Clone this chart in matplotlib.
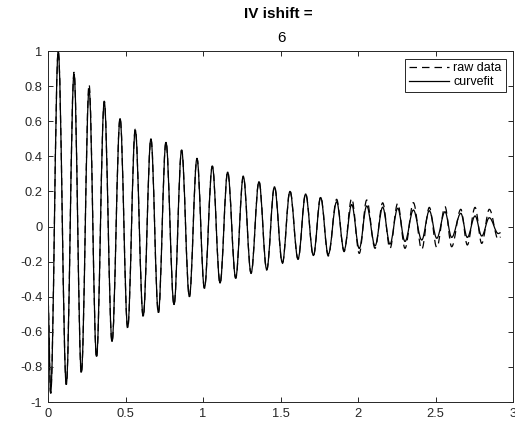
import numpy as np
import matplotlib
matplotlib.use('Agg')
import matplotlib.pyplot as plt
from matplotlib.path import Path
from matplotlib.patches import PathPatch
from matplotlib.lines import Line2D

plt.rcParams['font.family'] = ['Liberation Sans', 'DejaVu Sans']

# times of the turning points (s)
t_pts = [0.0, 0.017, 0.066, 0.118, 0.168, 0.215, 0.265, 0.313, 0.363, 0.413,
         0.465, 0.514, 0.563, 0.614, 0.664, 0.712, 0.761, 0.813, 0.862, 0.912,
         0.961, 1.009, 1.060, 1.110, 1.159, 1.211, 1.260, 1.310, 1.361, 1.411,
         1.461, 1.512, 1.561, 1.613, 1.662, 1.712, 1.759, 1.808, 1.862, 1.910,
         1.959, 2.008, 2.056, 2.110, 2.159, 2.206, 2.256, 2.303, 2.357, 2.411,
         2.460, 2.508, 2.561, 2.604, 2.663, 2.705, 2.755, 2.798, 2.847, 2.905,
         2.920]

raw = [-0.42, -0.95, 1.00, -0.90, 0.88, -0.84, 0.81, -0.75, 0.715, -0.66,
       0.62, -0.58, 0.555, -0.515, 0.50, -0.495, 0.483, -0.447, 0.436, -0.40,
       0.389, -0.352, 0.345, -0.324, 0.312, -0.295, 0.288, -0.267, 0.259, -0.248,
       0.229, -0.210, 0.204, -0.187, 0.189, -0.168, 0.170, -0.168, 0.155, -0.143,
       0.160, -0.153, 0.151, -0.124, 0.135, -0.125, 0.132, -0.124, 0.136, -0.130,
       0.109, -0.119, 0.113, -0.115, 0.098, -0.105, 0.109, -0.096, 0.098, -0.073,
       -0.06]

fit = [-0.42, -0.95, 1.00, -0.90, 0.87, -0.83, 0.78, -0.74, 0.71, -0.655,
       0.615, -0.575, 0.55, -0.51, 0.50, -0.49, 0.48, -0.445, 0.435, -0.40,
       0.388, -0.35, 0.343, -0.322, 0.31, -0.293, 0.285, -0.265, 0.255, -0.245,
       0.226, -0.207, 0.200, -0.184, 0.185, -0.165, 0.165, -0.160, 0.141, -0.135,
       0.125, -0.125, 0.117, -0.110, 0.110, -0.100, 0.104, -0.085, 0.094, -0.077,
       0.090, -0.067, 0.084, -0.062, 0.075, -0.062, 0.060, -0.054, 0.050, -0.040,
       -0.035]

xticks = [0, 0.5, 1, 1.5, 2, 2.5, 3]
xlabels = ['0', '0.5', '1', '1.5', '2', '2.5', '3']
yticks = [-1, -0.8, -0.6, -0.4, -0.2, 0, 0.2, 0.4, 0.6, 0.8, 1]
ylabels = ['-1', '-0.8', '-0.6', '-0.4', '-0.2', '0', '0.2', '0.4', '0.6', '0.8', '1']

axcol = '#262626'
dash = (0, (6, 4))


def smooth_path(t, v, k=0.363):
    # cubic bezier between turning points, flat tangent at each peak
    verts = [(t[0], v[0])]
    codes = [Path.MOVETO]
    for i in range(len(t) - 1):
        dt = t[i + 1] - t[i]
        verts += [(t[i] + k * dt, v[i]), (t[i + 1] - k * dt, v[i + 1]), (t[i + 1], v[i + 1])]
        codes += [Path.CURVE4] * 3
    return Path(verts, codes)


fig = plt.figure(figsize=(5.15, 4.25), dpi=100)
ax = fig.add_axes([0.0932, 0.054, 0.903, 0.826])

ax.add_patch(PathPatch(smooth_path(t_pts, raw), fill=False, edgecolor='black',
                       lw=0.9, linestyle=dash))
ax.add_patch(PathPatch(smooth_path(t_pts, fit), fill=False, edgecolor='black',
                       lw=0.9, linestyle='-'))

ax.set_xlim(0, 3)
ax.set_ylim(-1, 1)
ax.set_xticks(xticks)
ax.set_xticklabels(xlabels)
ax.set_yticks(yticks)
ax.set_yticklabels(ylabels)
ax.tick_params(direction='in', length=3.5, width=0.7, top=True, right=True,
               labelsize=9.3, colors=axcol, pad=4)
for s in ax.spines.values():
    s.set_color(axcol)
    s.set_linewidth(0.7)

handles = [Line2D([], [], color='black', lw=0.9, linestyle=dash),
           Line2D([], [], color='black', lw=0.9)]
leg = ax.legend(handles, ['raw data', 'curvefit'], loc='upper right', fontsize=9,
                handlelength=3.2, fancybox=False, framealpha=1, borderpad=0.3,
                labelspacing=0.15, handletextpad=0.35, borderaxespad=0.6)
leg.get_frame().set_edgecolor(axcol)
leg.get_frame().set_linewidth(0.7)

fig.text(0.541, 1 - 14 / 425, 'IV ishift =', ha='center', va='center',
         fontsize=11, fontweight='bold', color='black')
fig.text(0.546, 1 - 38 / 425, '6', ha='center', va='center',
         fontsize=11, color='black')

fig.savefig('out.png', dpi=100)
